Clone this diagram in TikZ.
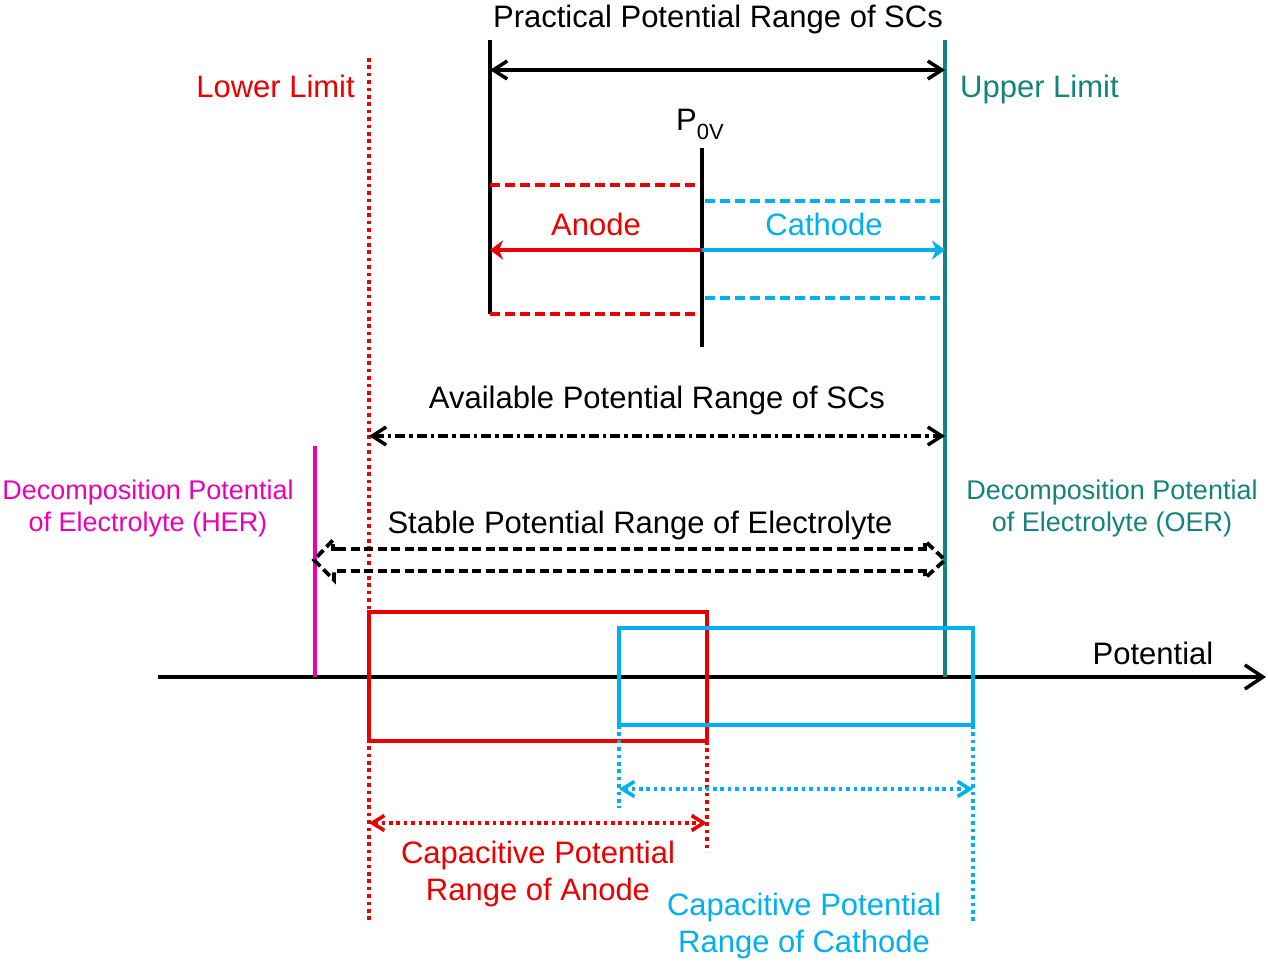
\documentclass[tikz,border=0pt]{standalone}
\usepackage{fontspec}
\setmainfont{Liberation Sans}
\usetikzlibrary{arrows.meta}
\definecolor{myred}{RGB}{235,0,0}
\definecolor{mycyan}{RGB}{0,176,240}
\definecolor{myteal}{RGB}{20,130,125}
\definecolor{mymag}{RGB}{236,0,180}
\begin{document}
\begin{tikzpicture}[x=1pt,y=-1pt,
  every node/.style={inner sep=0pt, font=\fontsize{31}{37}\selectfont},
  small/.style={font=\fontsize{27}{32}\selectfont},
  vline/.style={line width=3.5pt},
  barb/.style={{Straight Barb[length=14pt,width=18pt]}-{Straight Barb[length=14pt,width=18pt]}},
  sbarb/.style={{Straight Barb[length=12pt,width=15pt]}-{Straight Barb[length=12pt,width=15pt]}},
  stl/.style={-{Stealth[length=13pt,width=19pt,inset=4pt]}},
  dashr/.style={line width=3.5pt, dash pattern=on 10pt off 5pt},
  dottedline/.style={line width=3.6pt, dash pattern=on 3.6pt off 3.8pt},
  dashdot/.style={line width=3.5pt, dash pattern=on 10pt off 4pt on 3.5pt off 4pt},
  stabledash/.style={line width=3.8pt, dash pattern=on 9pt off 4.5pt},
  rectbox/.style={line width=3.5pt}
]
\useasboundingbox (0,0) rectangle (1268,963);

% ---------- axis
\coordinate (axL) at (158,677);
\coordinate (axR) at (1266,677);
\draw[line width=3.5pt, -{Straight Barb[length=18pt,width=24pt]}] (axL) -- (axR);
\node[anchor=base] (tPot) at (1153,664) {Potential};

% ---------- vertical reference lines
\coordinate (bkT) at (490,40);   \coordinate (bkB) at (490,314);
\draw[vline, line width=4pt] (bkT) -- (bkB);
\coordinate (p0T) at (702,148);  \coordinate (p0B) at (702,347);
\draw[vline, line width=4pt] (p0T) -- (p0B);
\coordinate (tlT) at (945,40);   \coordinate (tlB) at (945,677);
\draw[vline, myteal] (tlT) -- (tlB);
\coordinate (mgT) at (315,446);  \coordinate (mgB) at (315,677);
\draw[vline, mymag] (mgT) -- (mgB);
\coordinate (llT) at (369,58);   \coordinate (llB) at (369,922);
\draw[dottedline, myred] (llT) -- (llB);

% ---------- practical range
\node[anchor=base] (tPract) at (718,28) {Practical Potential Range of SCs};
\coordinate (prL) at (490,70); \coordinate (prR) at (945,70);
\draw[line width=3.5pt, barb] (prL) -- (prR);

\node[anchor=base east, myred] (tLower) at (355,98) {Lower Limit};
\node[anchor=base west, myteal] (tUpper) at (960,98) {Upper Limit};
\node[anchor=base] (tP0) at (700,131) {P\raisebox{-0.28em}{\fontsize{22}{22}\selectfont 0V}};

% ---------- anode / cathode
\coordinate (adT1) at (490,185); \coordinate (adT2) at (700,185);
\coordinate (adB1) at (490,314); \coordinate (adB2) at (700,314);
\draw[dashr, myred] (adT1) -- (adT2);
\draw[dashr, myred] (adB1) -- (adB2);
\coordinate (caT1) at (705,201); \coordinate (caT2) at (945,201);
\coordinate (caB1) at (705,298); \coordinate (caB2) at (945,298);
\draw[dashr, mycyan] (caT1) -- (caT2);
\draw[dashr, mycyan] (caB1) -- (caB2);
\coordinate (arM) at (702,250); \coordinate (arL) at (490,250); \coordinate (arR) at (945,250);
\draw[line width=3.5pt, myred, stl] (arM) -- (arL);
\draw[line width=3.5pt, mycyan, stl] (arM) -- (arR);
\node[anchor=base, myred] (tAnode) at (596,235) {Anode};
\node[anchor=base, mycyan] (tCath) at (824,235) {Cathode};

% ---------- available range
\node[anchor=base] (tAvail) at (657,408) {Available Potential Range of SCs};
\coordinate (avL) at (369,436); \coordinate (avR) at (945,436);
\draw[dashdot, barb] (avL) -- (avR);

% ---------- decomposition labels
\node[small, mymag, align=center, anchor=base] (tHER) at (148,531) {Decomposition Potential\\of Electrolyte (HER)};
\node[small, myteal, align=center, anchor=base] (tOER) at (1112,531) {Decomposition Potential\\of Electrolyte (OER)};

% ---------- stable range (double dashed arrow)
\node[anchor=base] (tStable) at (640,533) {Stable Potential Range of Electrolyte};
\coordinate (stL1) at (337,549); \coordinate (stR1) at (922,549);
\coordinate (stL2) at (337,571); \coordinate (stR2) at (922,571);
\coordinate (stLt) at (314,560); \coordinate (stRt) at (945,560);
\draw[stabledash] (stL1) -- (stR1);
\draw[stabledash] (stL2) -- (stR2);
\draw[stabledash, line join=miter] (stL1) -| ++(-4,-9) -- (stLt) -- ++(20,20) |- (stL2);
\draw[stabledash, line join=miter] (stR1) -| ++(3,-8) -- (stRt) -- ++(-20,18) |- (stR2);

% ---------- capacitive windows
\coordinate (raTL) at (369,612); \coordinate (raBR) at (707,741);
\draw[rectbox, myred] (raTL) rectangle (raBR);
\coordinate (caTL) at (619,628); \coordinate (caBR) at (973,725);
\draw[rectbox, mycyan] (caTL) rectangle (caBR);

\coordinate (rdT) at (707,741); \coordinate (rdB) at (707,852);
\draw[dottedline, myred] (rdT) -- (rdB);
\coordinate (cdLT) at (619,725); \coordinate (cdLB) at (619,808);
\draw[dottedline, mycyan] (cdLT) -- (cdLB);
\coordinate (cdRT) at (973,725); \coordinate (cdRB) at (973,922);
\draw[dottedline, mycyan] (cdRT) -- (cdRB);

\coordinate (caaL) at (619,789); \coordinate (caaR) at (973,789);
\draw[dottedline, mycyan, sbarb] (caaL) -- (caaR);
\coordinate (anaL) at (369,823); \coordinate (anaR) at (707,823);
\draw[dottedline, myred, sbarb] (anaL) -- (anaR);

\node[myred, align=center, anchor=base] (tCapA) at (538,900) {Capacitive Potential\\Range of Anode};
\node[mycyan, align=center, anchor=base] (tCapC) at (804,952) {Capacitive Potential\\Range of Cathode};
\end{tikzpicture}
\end{document}
